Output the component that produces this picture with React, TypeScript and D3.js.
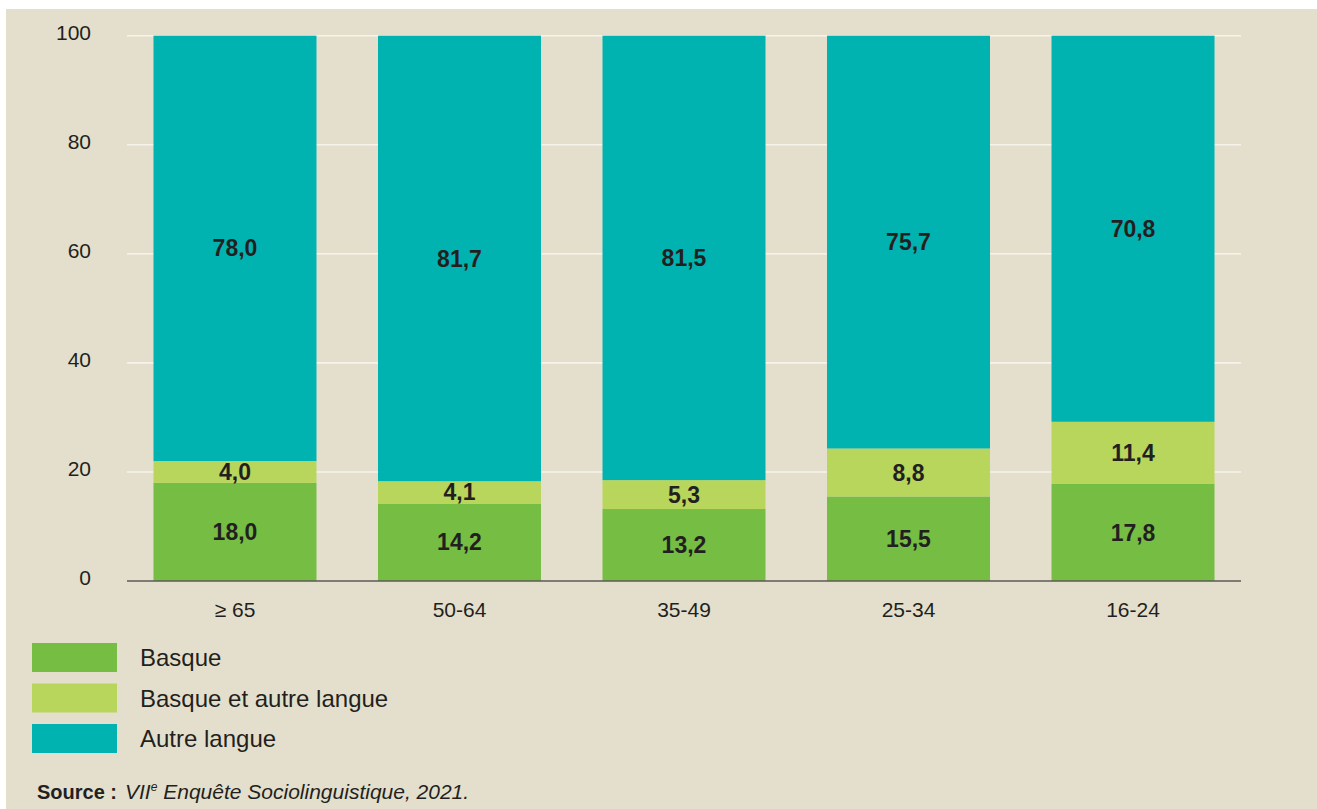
import React from 'react';
import * as d3 from 'd3';

const ageGroups = ['≥ 65', '50-64', '35-49', '25-34', '16-24'];
const basque = [18.0, 14.2, 13.2, 15.5, 17.8];
const basqueEtAutre = [4.0, 4.1, 5.3, 8.8, 11.4];
const autreLangue = [78.0, 81.7, 81.5, 75.7, 70.8];
const yTicks = [0, 20, 40, 60, 80, 100];

const seriesNames = ['Basque', 'Basque et autre langue', 'Autre langue'];
const colors = ['#75bd43', '#b8d65c', '#00b2b0'];

const W = 1317;
const H = 809;
const plot = { left: 127, right: 1241, top: 35.7, bottom: 581 };
const ink = '#231f20';
const font = 'Arial, "Liberation Sans", Helvetica, sans-serif';

const fmt = (v: number) => v.toFixed(1).replace('.', ',');

export default function App() {
  const x = d3
    .scaleBand<string>()
    .domain(ageGroups)
    .range([plot.left, plot.right])
    .paddingInner(0.274)
    .paddingOuter(0.118);
  const y = d3.scaleLinear().domain([0, 100]).range([plot.bottom, plot.top]);

  const rows = ageGroups.map((g, i) => ({
    group: g,
    basque: basque[i],
    mix: basqueEtAutre[i],
    autre: autreLangue[i],
  }));
  const stacked = d3.stack<any>().keys(['basque', 'mix', 'autre'])(rows);

  return (
    <svg width={W} height={H} style={{ position: 'absolute', left: 0, top: 0 }} fontFamily={font}>
      <rect x={0} y={0} width={W} height={H} fill="#ffffff" />
      <rect x={6} y={9} width={W - 6} height={H - 9} fill="#e4dfcc" />

      {/* grid */}
      {yTicks.filter((t) => t > 0).map((t) => (
        <line key={t} x1={plot.left} x2={plot.right} y1={y(t)} y2={y(t)} stroke="#f6f3ea" strokeWidth={1.6} />
      ))}

      {/* y tick labels */}
      {yTicks.map((t) => (
        <text key={t} x={91} y={y(t) - 3} dy="0.35em" textAnchor="end" fontSize={21} fill={ink}>
          {t}
        </text>
      ))}

      {/* bars */}
      {stacked.map((s, si) => (
        <g key={s.key} fill={colors[si]}>
          {s.map((d, i) => (
            <rect
              key={i}
              x={x(ageGroups[i])}
              y={y(d[1])}
              width={x.bandwidth()}
              height={y(d[0]) - y(d[1])}
            />
          ))}
        </g>
      ))}

      {/* value labels */}
      {stacked.map((s) =>
        s.map((d, i) => (
          <text
            key={s.key + i}
            x={(x(ageGroups[i]) as number) + x.bandwidth() / 2}
            y={y((d[0] + d[1]) / 2)}
            dy="0.35em"
            textAnchor="middle"
            fontSize={23}
            fontWeight="bold"
            fill={ink}
          >
            {fmt(d[1] - d[0])}
          </text>
        ))
      )}

      {/* axis line */}
      <line x1={plot.left} x2={plot.right} y1={y(0)} y2={y(0)} stroke="#5e5a55" strokeWidth={1.6} />

      {/* x labels */}
      {ageGroups.map((g) => (
        <text
          key={g}
          x={(x(g) as number) + x.bandwidth() / 2}
          y={617}
          textAnchor="middle"
          fontSize={21}
          fill={ink}
        >
          {g}
        </text>
      ))}

      {/* legend */}
      {seriesNames.map((n, i) => (
        <g key={n} transform={`translate(32,${643 + i * 40.5})`}>
          <rect width={85} height={29} fill={colors[i]} />
          <text x={108} y={23} fontSize={24} fill={ink}>
            {n}
          </text>
        </g>
      ))}

      {/* source */}
      <text x={37} y={799} fontSize={20} fill={ink}>
        <tspan fontWeight="bold">Source :</tspan>
        <tspan fontStyle="italic" fontSize={21} dx={8}>VII</tspan>
        <tspan fontStyle="italic" fontSize={12} dy={-8}>e</tspan>
        <tspan fontStyle="italic" fontSize={21} dy={8}> Enquête Sociolinguistique, 2021.</tspan>
      </text>
    </svg>
  );
}
